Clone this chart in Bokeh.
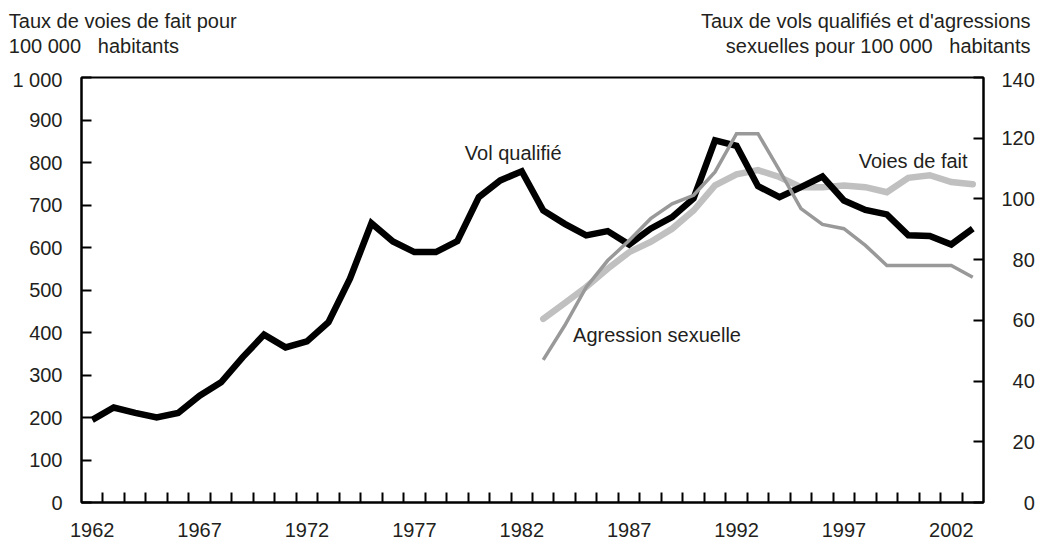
from bokeh.plotting import figure
from bokeh.models import Range1d, LinearAxis, FixedTicker, Label
from bokeh.layouts import column
from bokeh.core.properties import value
from bokeh.embed import file_html
from bokeh.resources import INLINE

# ---------------- data ----------------
years = list(range(1962, 2004))
vol_qualifie = [27.2, 31.3, 29.5, 28.0, 29.5, 35.2, 39.6, 47.8, 55.3, 51.1,
                53.1, 59.4, 73.7, 92.0, 86.0, 82.5, 82.5, 86.1, 100.6, 106.1,
                109.1, 96.2, 91.8, 88.0, 89.4, 85.0, 90.2, 94.0, 100.2, 119.3,
                117.5, 104.2, 100.6, 103.9, 107.4, 99.5, 96.4, 94.9, 88.0, 87.8,
                85.0, 90.2]

years_recent = list(range(1983, 2004))
voies_de_fait = [432, 469, 507, 550, 589, 613, 644, 687, 746, 772, 782,
                 766, 742, 742, 746, 742, 730, 764, 770, 754, 749]
agression_sexuelle = [47.0, 58.3, 70.9, 79.7, 86.3, 93.5, 98.4, 101.2, 108.9,
                      121.5, 121.5, 109.4, 96.8, 91.6, 90.2, 84.7, 78.1, 78.1,
                      78.1, 78.1, 74.2]

label_years = [1962, 1967, 1972, 1977, 1982, 1987, 1992, 1997, 2002]
left_ticks = [0, 100, 200, 300, 400, 500, 600, 700, 800, 900, 1000]
left_tick_labels = {1000: "1 000"}
right_ticks = [0, 20, 40, 60, 80, 100, 120, 140]

title_left = ["Taux de voies de fait pour", "100 000\u00a0\u00a0 habitants"]
title_right = ["Taux de vols qualifiés et d'agressions",
               "sexuelles pour 100 000\u00a0\u00a0 habitants"]

# ---------------- styling ----------------
FONT = "Liberation Sans"
FS = "20px"
TXT = "#231f20"
BLACK = "#000000"
LIGHT = "#c0c0c0"
MID = "#999999"
W = 1040
HEAD_H = 68

# ---------------- header with the two axis titles ----------------
head = figure(width=W, height=HEAD_H, output_backend="svg", toolbar_location=None,
              x_range=Range1d(0, W), y_range=Range1d(HEAD_H, 0),
              x_axis_type=None, y_axis_type=None, min_border=0)
if "frame_align" in head.properties():
    head.frame_align = False
head.outline_line_color = None
head.grid.visible = False
head.background_fill_color = "white"
head.border_fill_color = "white"
for i, line in enumerate(title_left):
    head.text(x=[8.3], y=[20.5 + 25 * i], text=[line], text_align="left",
              text_baseline="alphabetic", text_font=value(FONT),
              text_font_size=FS, text_color=TXT)
for i, line in enumerate(title_right):
    head.text(x=[1030], y=[20.5 + 25 * i], text=[line], text_align="right",
              text_baseline="alphabetic", text_font=value(FONT),
              text_font_size=FS, text_color=TXT)

# ---------------- main chart ----------------
p = figure(width=W, height=544 - HEAD_H, output_backend="svg", toolbar_location=None,
           x_range=Range1d(years[0] - 0.5, years[-1] + 0.5),
           y_range=Range1d(0, 1000),
           min_border_left=81, min_border_right=W - 983, min_border_top=77 - HEAD_H,
           min_border_bottom=42)
if "frame_align" in p.properties():
    p.frame_align = False
p.extra_y_ranges = {"right": Range1d(0, 140)}
p.background_fill_color = "white"
p.border_fill_color = "white"
p.outline_line_color = BLACK
p.outline_line_width = 2
p.xgrid.visible = False
p.ygrid.visible = False

# x axis: labels every 5 years, small inward ticks between the yearly categories
xa = p.xaxis[0]
xa.ticker = FixedTicker(ticks=label_years, minor_ticks=[y + 0.5 for y in years[:-1]])
xa.major_tick_in = 0
xa.major_tick_out = 0
xa.minor_tick_in = 10
xa.minor_tick_out = 0
xa.minor_tick_line_color = BLACK
xa.minor_tick_line_width = 2
xa.axis_line_color = BLACK
xa.axis_line_width = 2
xa.major_label_standoff = 20
xa.major_label_text_font = FONT
xa.major_label_text_font_size = FS
xa.major_label_text_color = TXT

# left axis
ya = p.yaxis[0]
ya.ticker = FixedTicker(ticks=left_ticks)
ya.major_label_overrides = left_tick_labels
ya.major_tick_in = 10
ya.major_tick_out = 0
ya.major_tick_line_color = BLACK
ya.major_tick_line_width = 2
ya.minor_tick_line_color = None
ya.axis_line_color = BLACK
ya.axis_line_width = 2
ya.major_label_standoff = 19
ya.major_label_text_font = FONT
ya.major_label_text_font_size = FS
ya.major_label_text_color = TXT

# right axis (labels padded with figure spaces so they end flush right)
width_r = max(len(str(t)) for t in right_ticks)
ra = LinearAxis(y_range_name="right", ticker=FixedTicker(ticks=right_ticks))
ra.major_label_overrides = {t: "\u2007" * (width_r - len(str(t))) + str(t)
                            for t in right_ticks}
ra.major_tick_in = 10
ra.major_tick_out = 0
ra.major_tick_line_color = BLACK
ra.major_tick_line_width = 2
ra.minor_tick_line_color = None
ra.axis_line_color = BLACK
ra.axis_line_width = 2
ra.major_label_standoff = 18
ra.major_label_text_font = FONT
ra.major_label_text_font_size = FS
ra.major_label_text_color = TXT
p.add_layout(ra, "right")

# ---------------- series ----------------
p.line(years_recent, voies_de_fait, line_color=LIGHT, line_width=6.5,
       line_join="miter", line_cap="round")
p.line(years, vol_qualifie, line_color=BLACK, line_width=6.5,
       line_join="miter", y_range_name="right")
p.line(years_recent, agression_sexuelle, line_color=MID, line_width=3.5,
       line_join="miter", y_range_name="right")

# ---------------- series labels ----------------
for txt, x, y, align in [("Vol qualifié", 1979.35, 805, "left"),
                         ("Agression sexuelle", 1984.39, 377, "left"),
                         ("Voies de fait", 2002.76, 788, "right")]:
    p.add_layout(Label(x=x, y=y, y_offset=7, text=txt, text_align=align,
                       text_baseline="alphabetic", text_font=FONT,
                       text_font_size=FS, text_color=TXT))

open("out.html", "w").write(file_html(column(head, p), INLINE))
